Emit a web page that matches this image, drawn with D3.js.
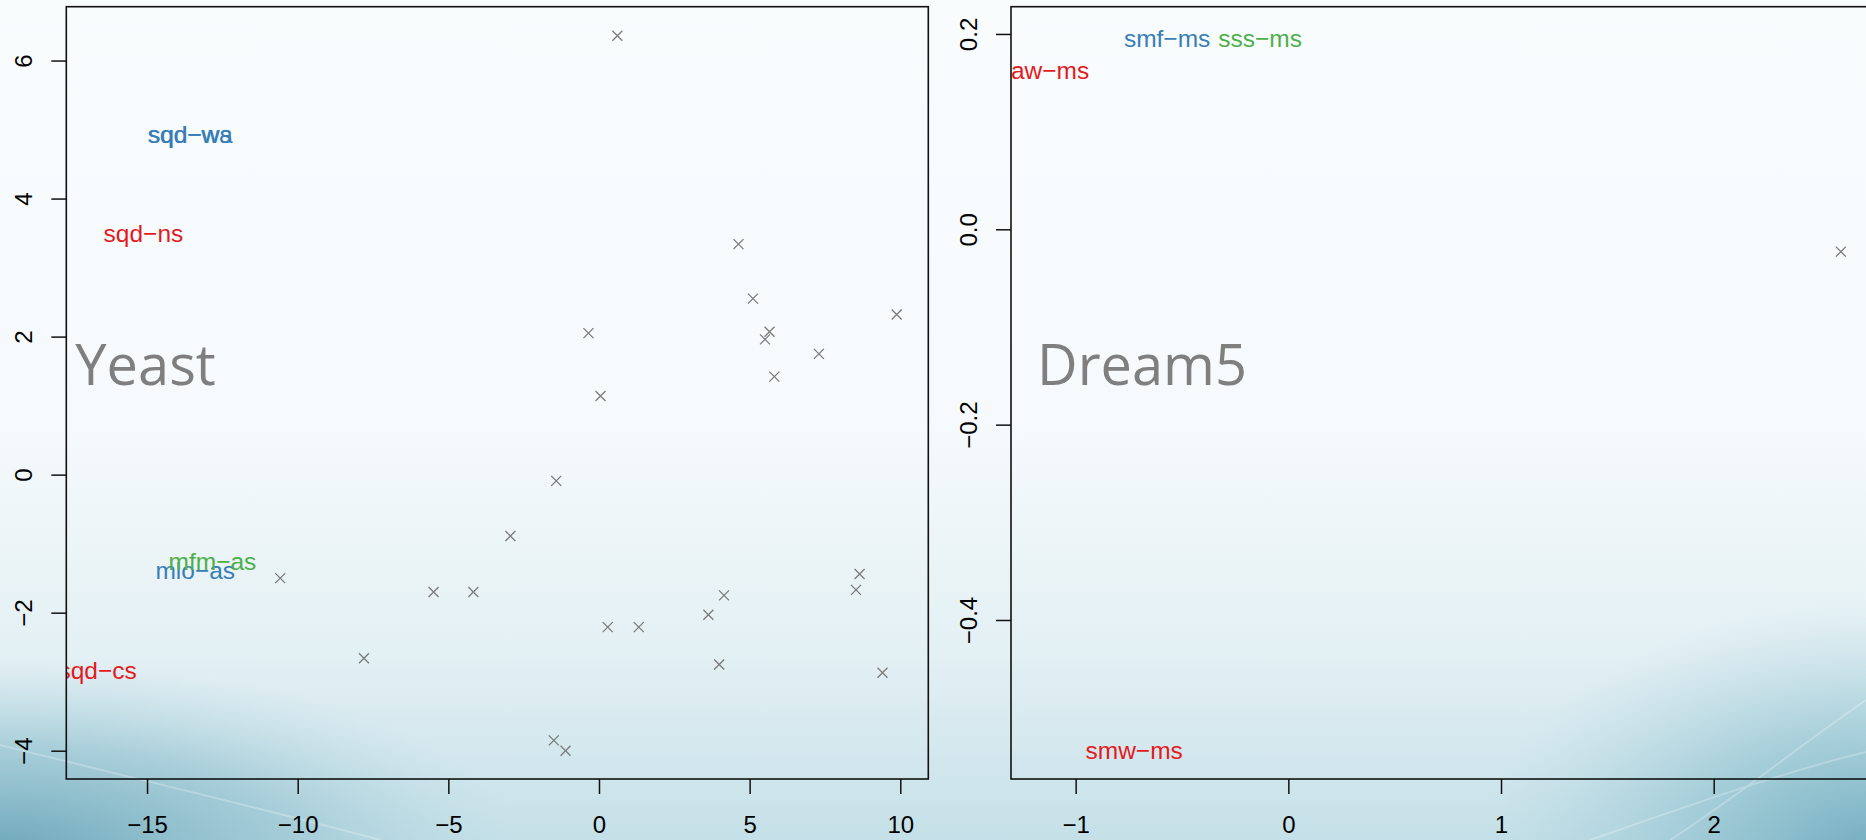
<!DOCTYPE html>
<html>
<head>
<meta charset="utf-8">
<script src="https://cdn.jsdelivr.net/npm/d3@7"></script>
<style>
body { margin: 0; overflow: hidden; }
text { font-family: "Liberation Sans", Arial, Helvetica, sans-serif; }
</style>
</head>
<body>
<div id="chart"></div>
<script>
// Yeast panel
var yeastX = [0.61, 4.63, 5.11, 9.88, -0.35, 5.66, 5.51, 7.30, 5.82, 0.05,
              -1.42, -2.94, -10.58, -5.49, -4.17, 8.65, 8.53, 4.15, 3.63, 0.29,
              1.32, -7.80, 3.99, 9.41, -1.50, -1.11];
var yeastY = [6.36, 3.34, 2.55, 2.32, 2.05, 2.07, 1.96, 1.75, 1.42, 1.14,
              -0.09, -0.89, -1.50, -1.70, -1.70, -1.44, -1.67, -1.75, -2.03, -2.21,
              -2.21, -2.66, -2.75, -2.87, -3.85, -4.00];
var yeastLabelText = ["sqd\u2212wa", "sqd\u2212ws", "sqd\u2212ns", "mlo\u2212as", "mfm\u2212as", "sqd\u2212cs"];
var yeastLabelX = [-13.57, -13.57, -15.12, -13.40, -12.83, -16.64];
var yeastLabelY = [4.93, 4.93, 3.50, -1.38, -1.26, -2.84];
var yeastLabelGroup = [1, 1, 0, 1, 2, 0];
var yeastXLim = [-17.68, 10.93];
var yeastYLim = [-4.41, 6.78];
var yeastTicksX = [-15, -10, -5, 0, 5, 10];
var yeastTicksY = [-4, -2, 0, 2, 4, 6];

// Dream5 panel
var dreamX = [2.598];
var dreamY = [-0.0229];
var dreamLabelText = ["aw\u2212ms", "smf\u2212ms", "sss\u2212ms", "smw\u2212ms"];
var dreamLabelX = [-1.12, -0.570, -0.133, -0.725];
var dreamLabelY = [0.163, 0.196, 0.196, -0.533];
var dreamLabelGroup = [0, 1, 2, 0];
var dreamXLim = [-1.304, 2.749];
var dreamYLim = [-0.5628, 0.2279];
var dreamTicksX = [-1, 0, 1, 2];
var dreamTicksY = [-0.4, -0.2, 0.0, 0.2];

var W = 1866, H = 840;
var groupColor = d3.scaleOrdinal().domain([0, 1, 2]).range(["#e41a1c", "#377eb8", "#4daf4a"]);

var svg = d3.select("#chart").append("svg")
    .attr("width", W)
    .attr("height", H);

var defs = svg.append("defs");

// slide background
var bg = defs.append("linearGradient").attr("id", "bg")
    .attr("x1", 0).attr("y1", 0).attr("x2", 0).attr("y2", 1);
bg.append("stop").attr("offset", "0%").attr("stop-color", "#f9fcfd");
bg.append("stop").attr("offset", "50%").attr("stop-color", "#f6fafc");
bg.append("stop").attr("offset", "78%").attr("stop-color", "#e3f0f4");
bg.append("stop").attr("offset", "100%").attr("stop-color", "#c5e0e8");

// corner glows, as ellipses in page space
var bl = defs.append("radialGradient").attr("id", "bl")
    .attr("gradientUnits", "userSpaceOnUse")
    .attr("cx", 0).attr("cy", 0).attr("r", 1)
    .attr("gradientTransform", "translate(0,850) scale(520,190)");
bl.append("stop").attr("offset", "0%").attr("stop-color", "#6ea8ba").attr("stop-opacity", 1);
bl.append("stop").attr("offset", "55%").attr("stop-color", "#86bac9").attr("stop-opacity", 0.55);
bl.append("stop").attr("offset", "100%").attr("stop-color", "#a9d0db").attr("stop-opacity", 0);

var br = defs.append("radialGradient").attr("id", "br")
    .attr("gradientUnits", "userSpaceOnUse")
    .attr("cx", 0).attr("cy", 0).attr("r", 1)
    .attr("gradientTransform", "translate(1880,860) scale(400,260)");
br.append("stop").attr("offset", "0%").attr("stop-color", "#6eaabd").attr("stop-opacity", 1);
br.append("stop").attr("offset", "50%").attr("stop-color", "#8bbfcd").attr("stop-opacity", 0.6);
br.append("stop").attr("offset", "100%").attr("stop-color", "#a9d0db").attr("stop-opacity", 0);

svg.append("rect").attr("width", W).attr("height", H).attr("fill", "url(#bg)");
svg.append("rect").attr("width", W).attr("height", H).attr("fill", "url(#bl)");
svg.append("rect").attr("width", W).attr("height", H).attr("fill", "url(#br)");
// faint swoosh lines
svg.append("path")
    .attr("d", "M0,745 C140,780 270,810 380,840")
    .attr("fill", "none").attr("stroke", "#ffffff").attr("stroke-opacity", 0.25).attr("stroke-width", 2);
svg.append("path")
    .attr("d", "M1866,700 C1800,745 1740,795 1670,840 M1590,840 C1690,805 1790,770 1866,752")
    .attr("fill", "none").attr("stroke", "#ffffff").attr("stroke-opacity", 0.25).attr("stroke-width", 2);

panel("yeast", "Yeast", [66.3, 928.3], yeastXLim, yeastYLim, yeastTicksX, yeastTicksY,
      d3.format("d"), d3.format("d"), yeastX, yeastY,
      yeastLabelText, yeastLabelX, yeastLabelY, yeastLabelGroup);
panel("dream", "Dream5", [1011, 1873], dreamXLim, dreamYLim, dreamTicksX, dreamTicksY,
      d3.format("d"), d3.format(".1f"), dreamX, dreamY,
      dreamLabelText, dreamLabelX, dreamLabelY, dreamLabelGroup);

function panel(id, title, xr, xlim, ylim, tx, ty, fx, fy, px, py, lt, lx, ly, lg) {
    var top = 6.7, bottom = 779;
    var x = d3.scaleLinear().domain(xlim).range(xr);
    var y = d3.scaleLinear().domain(ylim).range([bottom, top]);

    defs.append("clipPath").attr("id", "clip-" + id)
        .append("rect")
        .attr("x", xr[0]).attr("y", top)
        .attr("width", xr[1] - xr[0]).attr("height", bottom - top);

    var g = svg.append("g");

    // x axis
    var ax = g.append("g")
        .attr("transform", "translate(0," + bottom + ")")
        .call(d3.axisBottom(x).tickValues(tx).tickSize(15).tickFormat(fx));
    ax.select(".domain").remove();
    ax.selectAll("line").attr("stroke", "#111").attr("stroke-width", 1.5);
    ax.selectAll("text")
        .attr("y", 54).attr("dy", 0)
        .attr("fill", "#000")
        .style("font-size", "24px");

    // y axis, labels turned like R's default
    var ay = g.append("g")
        .attr("transform", "translate(" + xr[0] + ",0)")
        .call(d3.axisLeft(y).tickValues(ty).tickSize(15).tickFormat(fy));
    ay.select(".domain").remove();
    ay.selectAll("line").attr("stroke", "#111").attr("stroke-width", 1.5);
    ay.selectAll("text")
        .attr("x", 0).attr("y", 0).attr("dy", 0)
        .attr("text-anchor", "middle")
        .attr("transform", "translate(-34,0) rotate(-90)")
        .attr("fill", "#000")
        .style("font-size", "24px");

    var inner = g.append("g").attr("clip-path", "url(#clip-" + id + ")");

    inner.append("text")
        .attr("x", xr[0] + (id == "yeast" ? 9 : 26))
        .attr("y", 385)
        .attr("fill", "#7f7f7f")
        .style("font-family", "'Open Sans', 'Noto Sans', sans-serif")
        .style("font-size", "56px")
        .text(title);

    // pch = 4 crosses
    var s = 5;
    inner.selectAll(".pt")
        .data(d3.range(px.length))
        .enter()
        .append("path")
        .attr("class", "pt")
        .attr("d", function(i) {
            var cx = x(px[i]), cy = y(py[i]);
            return "M" + (cx - s) + "," + (cy - s) + "L" + (cx + s) + "," + (cy + s) +
                   "M" + (cx - s) + "," + (cy + s) + "L" + (cx + s) + "," + (cy - s);
        })
        .attr("stroke", "#7a7a7a")
        .attr("stroke-width", 1.3)
        .attr("fill", "none");

    inner.selectAll(".lab")
        .data(d3.range(lt.length))
        .enter()
        .append("text")
        .attr("class", "lab")
        .attr("x", function(i) { return x(lx[i]); })
        .attr("y", function(i) { return y(ly[i]); })
        .attr("dy", "0.36em")
        .attr("text-anchor", "middle")
        .attr("fill", function(i) { return groupColor(lg[i]); })
        .style("font-size", "24.5px")
        .text(function(i) { return lt[i]; });

    // plot box
    g.append("rect")
        .attr("x", xr[0]).attr("y", top)
        .attr("width", xr[1] - xr[0]).attr("height", bottom - top)
        .attr("fill", "none")
        .attr("stroke", "#111")
        .attr("stroke-width", 1.6);
}
</script>
</body>
</html>
